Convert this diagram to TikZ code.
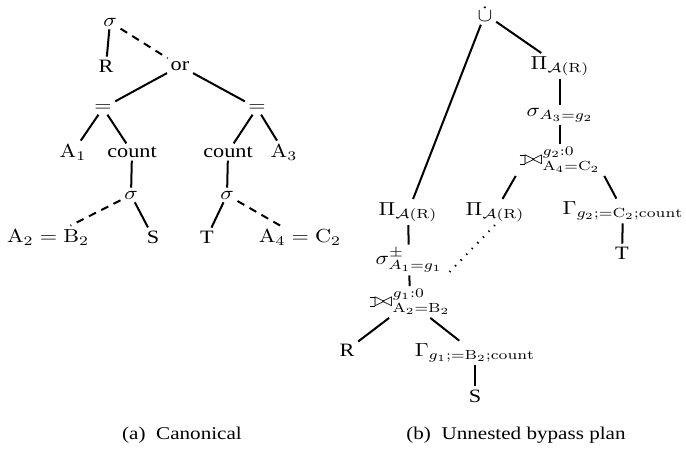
\documentclass[tikz,border=0pt]{standalone}
\usepackage{fontspec}
\usepackage{amsmath}
\usepackage{amssymb}
\newfontfamily\capfont{Liberation Serif}
\def\ojoin{\setbox0=\hbox{$\bowtie$}\rule[-.02ex]{.25em}{.4pt}\llap{\rule[\ht0]{.25em}{.4pt}}}
\newcommand{\lojoin}{\mathbin{\ojoin\mkern-5.8mu\bowtie}}

\begin{document}
\begin{tikzpicture}[x=0.45pt, y=-0.5294pt, yscale=0.85, transform shape]
% Define styles
\tikzstyle{op}=[inner sep=1.5pt]
\tikzstyle{word}=[inner sep=1.5pt, font=\capfont]
\tikzstyle{edge}=[line width=0.9pt]
\tikzstyle{dashedge}=[line width=0.9pt, dash pattern=on 3.5pt off 2.7pt]
\tikzstyle{dotedge}=[line width=0.9pt, dash pattern=on 0.6pt off 3pt]
\tikzstyle{caption}=[font=\capfont\fontsize{9.5}{11}\selectfont]
\useasboundingbox (0,0) rectangle (686,453);
% Place nodes: canonical plan
\node[op] (sig) at (110,22) {$\sigma$};
\node[word] (rA) at (106,66) {R};
\node[word] (orn) at (180,66) {or};
\node[op] (eqL) at (103,108) {$=$};
\node[op] (eqR) at (257,108) {$=$};
\node[op] (aOne) at (73,152) {$\mathrm{A}_1$};
\node[word] (cntL) at (132,152) {count};
\node[word] (cntR) at (228,152) {count};
\node[op] (aThree) at (284,152) {$\mathrm{A}_3$};
\node[op] (sigL) at (131,195) {$\sigma$};
\node[op] (sigR) at (227,195) {$\sigma$};
\node[op] (abEq) at (48,237) {$\mathrm{A}_2=\mathrm{B}_2$};
\node[word] (sL) at (153,237) {S};
\node[word] (tL) at (207,237) {T};
\node[op] (acEq) at (300,237) {$\mathrm{A}_4=\mathrm{C}_2$};
% Place nodes: unnested bypass plan
\node[op] (cup) at (485,14) {$\dot\cup$};
\node[op] (piTop) at (560,66) {$\Pi_{\mathcal{A}(\mathrm{R})}$};
\node[op] (selTop) at (560,115) {$\sigma_{A_3=g_2}$};
\node[op] (joinTop) at (560,160) {$\lojoin^{g_2:0}_{\mathrm{A}_4=\mathrm{C}_2}$};
\node[op] (piL) at (408,212) {$\Pi_{\mathcal{A}(\mathrm{R})}$};
\node[op] (piM) at (495,212) {$\Pi_{\mathcal{A}(\mathrm{R})}$};
\node[op] (gamT) at (623,211) {$\Gamma_{g_2;=\mathrm{C}_2;\mathrm{count}}$};
\node[word] (tR) at (622,253) {T};
\node[op] (selPm) at (409,260) {$\sigma^{\pm}_{A_1=g_1}$};
\node[op] (joinBot) at (410,302) {$\lojoin^{g_1:0}_{\mathrm{A}_2=\mathrm{B}_2}$};
\node[word] (rR) at (347,350) {R};
\node[op] (gamS) at (475,353) {$\Gamma_{g_1;=\mathrm{B}_2;\mathrm{count}}$};
\node[word] (sR) at (475,396) {S};
% Captions
\node[caption] (capA) at (182,435) {(a)\ \ Canonical};
\node[caption] (capB) at (516,435) {(b)\ \ Unnested bypass plan};
% Draw edges: canonical plan
\draw[edge] (sig) -- (rA);
\draw[dashedge] (sig) -- (orn);
\draw[edge] (orn) -- (eqL);
\draw[edge] (orn) -- (eqR);
\draw[edge] (eqL) -- (aOne);
\draw[edge] (eqL) -- (cntL);
\draw[edge] (eqR) -- (cntR);
\draw[edge] (eqR) -- (aThree);
\draw[edge] (cntL) -- (sigL);
\draw[edge] (cntR) -- (sigR);
\draw[dashedge] (sigL) -- (abEq);
\draw[edge] (sigL) -- (sL);
\draw[edge] (sigR) -- (tL);
\draw[dashedge] (sigR) -- (acEq);
% Draw edges: unnested bypass plan
\draw[edge] (cup) -- (piTop);
\draw[edge] (cup) -- (piL);
\draw[edge] (piTop) -- (selTop);
\draw[edge] (selTop) -- (joinTop);
\draw[edge] (joinTop.south west) -- (piM);
\draw[edge] (joinTop.south east) -- (gamT);
\draw[edge] (gamT) -- (tR);
\draw[edge] (piL) -- (selPm);
\draw[dotedge] (piM.south) -- (selPm.south east);
\draw[edge] (selPm) -- (joinBot);
\draw[edge] (joinBot) -- (rR);
\draw[edge] (joinBot) -- (gamS);
\draw[edge] (gamS) -- (sR);
\end{tikzpicture}
\end{document}
